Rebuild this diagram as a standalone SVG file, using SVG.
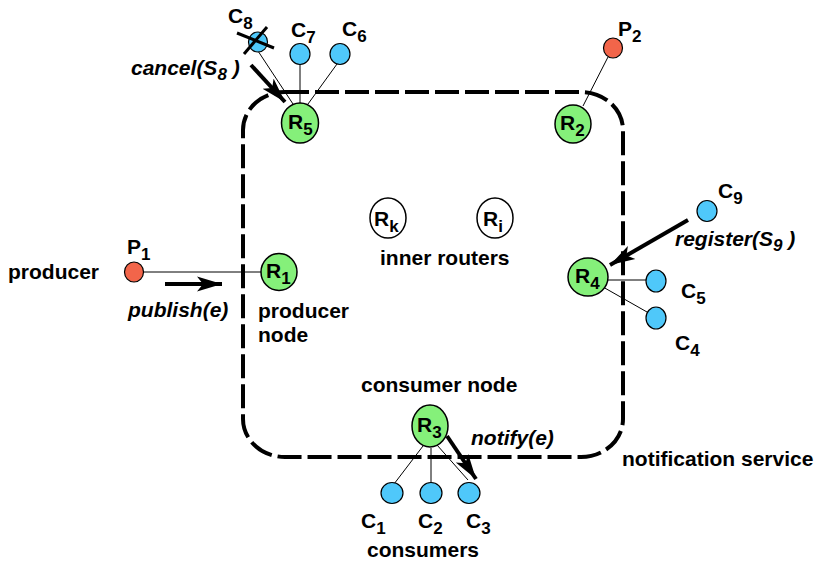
<svg xmlns="http://www.w3.org/2000/svg" width="817" height="564" viewBox="0 0 817 564">
<style>
text{font-family:"Liberation Sans",Arial,sans-serif;font-weight:bold;font-size:21px;fill:#000}
.it{font-style:italic}
.sub{font-size:17px}
.router{fill:#85f07a;stroke:#000;stroke-width:1.5}
.inner{fill:#fff;stroke:#000;stroke-width:1.5}
.cons{fill:#4fc8fa;stroke:#000;stroke-width:1.2}
.prod{fill:#f2654a;stroke:#000;stroke-width:1.2}
.link{stroke:#000;stroke-width:1;fill:none}
.arrow{stroke:#000;stroke-width:4;fill:none;marker-end:url(#ah)}
.boundary{fill:none;stroke:#000;stroke-width:4;stroke-dasharray:24 6}
</style>
<defs>
<marker id="ah" markerUnits="userSpaceOnUse" markerWidth="28" markerHeight="18" refX="25" refY="9" orient="auto">
<path d="M0,1.5 L25,9 L0,16.5 L6,9 Z" fill="#000"/>
</marker>
</defs>

<rect class="boundary" x="243" y="92" width="380" height="365" rx="42" ry="38"/>

<g id="connectors">
<line class="link" x1="258" y1="51" x2="293" y2="104"/>
<line class="link" x1="300" y1="64" x2="300" y2="103"/>
<line class="link" x1="337" y1="64" x2="308" y2="104"/>
<line class="link" x1="608" y1="57" x2="583" y2="106"/>
<line class="link" x1="142" y1="272" x2="261" y2="272"/>
<line class="link" x1="606" y1="280" x2="646" y2="280"/>
<line class="link" x1="603" y1="287" x2="647" y2="312"/>
<line class="link" x1="423" y1="446" x2="394" y2="484"/>
<line class="link" x1="431" y1="448" x2="431" y2="483" stroke="#555"/>
<line class="link" x1="437" y1="445" x2="468" y2="480"/>
<line class="arrow" x1="251" y1="65" x2="285" y2="102"/>
<line class="arrow" x1="165" y1="284" x2="222" y2="284"/>
<line class="arrow" x1="688" y1="220" x2="610" y2="265"/>
<line class="arrow" x1="447" y1="436" x2="476" y2="479"/>
</g>

<g id="C8">
<ellipse class="cons" cx="258" cy="42" rx="9.5" ry="10"/>
<line x1="237" y1="33" x2="274" y2="48" stroke="#000" stroke-width="3"/>
<line x1="244" y1="54" x2="267" y2="27" stroke="#000" stroke-width="3"/>
<text x="228" y="23">C<tspan class="sub" dy="6">8</tspan></text>
</g>
<g id="C7">
<ellipse class="cons" cx="300" cy="54" rx="10" ry="10.5"/>
<text x="291" y="37">C<tspan class="sub" dy="6">7</tspan></text>
</g>
<g id="C6">
<ellipse class="cons" cx="340" cy="54" rx="10" ry="10.5"/>
<text x="342" y="36">C<tspan class="sub" dy="6">6</tspan></text>
</g>
<g id="R5">
<ellipse class="router" cx="300" cy="123" rx="18.5" ry="20"/>
<text x="288" y="129">R<tspan class="sub" dy="6">5</tspan></text>
</g>
<g id="P2">
<ellipse class="prod" cx="613" cy="48" rx="9.5" ry="10"/>
<text x="618" y="36">P<tspan class="sub" dy="6">2</tspan></text>
</g>
<g id="R2">
<ellipse class="router" cx="573" cy="124" rx="18" ry="19"/>
<text x="560" y="130">R<tspan class="sub" dy="6">2</tspan></text>
</g>
<g id="Rk">
<ellipse class="inner" cx="388" cy="218" rx="18" ry="20"/>
<text x="374" y="226">R<tspan class="sub" dy="6">k</tspan></text>
</g>
<g id="Ri">
<ellipse class="inner" cx="495" cy="218" rx="18" ry="20"/>
<text x="483" y="226">R<tspan class="sub" dy="6">i</tspan></text>
</g>
<text x="380" y="265">inner routers</text>

<g id="P1">
<ellipse class="prod" cx="134" cy="272" rx="9.5" ry="10"/>
<text x="127" y="254">P<tspan class="sub" dy="6">1</tspan></text>
</g>
<text x="8" y="279">producer</text>
<text class="it" x="128" y="317">publish(e)</text>

<g id="R1">
<ellipse class="router" cx="279" cy="272" rx="18" ry="18.5"/>
<text x="266" y="278">R<tspan class="sub" dy="6">1</tspan></text>
</g>
<text x="258" y="318">producer</text>
<text x="258" y="342">node</text>

<g id="C9">
<ellipse class="cons" cx="707" cy="211" rx="10" ry="10.5"/>
<text x="718" y="198">C<tspan class="sub" dy="6">9</tspan></text>
</g>
<text class="it" x="675" y="246">register(S<tspan class="sub" dy="5">9</tspan><tspan dy="-5"> )</tspan></text>
<text class="it" x="131" y="75">cancel(S<tspan class="sub" dy="5">8</tspan><tspan dy="-5"> )</tspan></text>

<g id="R4">
<ellipse class="router" cx="588" cy="277" rx="20" ry="19"/>
<text x="575" y="283">R<tspan class="sub" dy="6">4</tspan></text>
</g>
<g id="C5">
<ellipse class="cons" cx="656" cy="281" rx="10" ry="11"/>
<text x="681" y="298">C<tspan class="sub" dy="6">5</tspan></text>
</g>
<g id="C4">
<ellipse class="cons" cx="656" cy="318" rx="10" ry="11"/>
<text x="675" y="350">C<tspan class="sub" dy="6">4</tspan></text>
</g>

<text x="361" y="392">consumer node</text>
<g id="R3">
<ellipse class="router" cx="430" cy="426" rx="18" ry="21"/>
<text x="417" y="432">R<tspan class="sub" dy="6">3</tspan></text>
</g>
<text class="it" x="471" y="445">notify(e)</text>
<text x="622" y="466">notification service</text>

<g id="C1">
<ellipse class="cons" cx="392" cy="493" rx="11" ry="10.5"/>
<text x="361" y="528">C<tspan class="sub" dy="6">1</tspan></text>
</g>
<g id="C2">
<ellipse class="cons" cx="431" cy="493" rx="11" ry="10.5"/>
<text x="418" y="528">C<tspan class="sub" dy="6">2</tspan></text>
</g>
<g id="C3">
<ellipse class="cons" cx="469" cy="493" rx="11" ry="10.5"/>
<text x="466" y="528">C<tspan class="sub" dy="6">3</tspan></text>
</g>
<text x="367" y="557">consumers</text>
</svg>
